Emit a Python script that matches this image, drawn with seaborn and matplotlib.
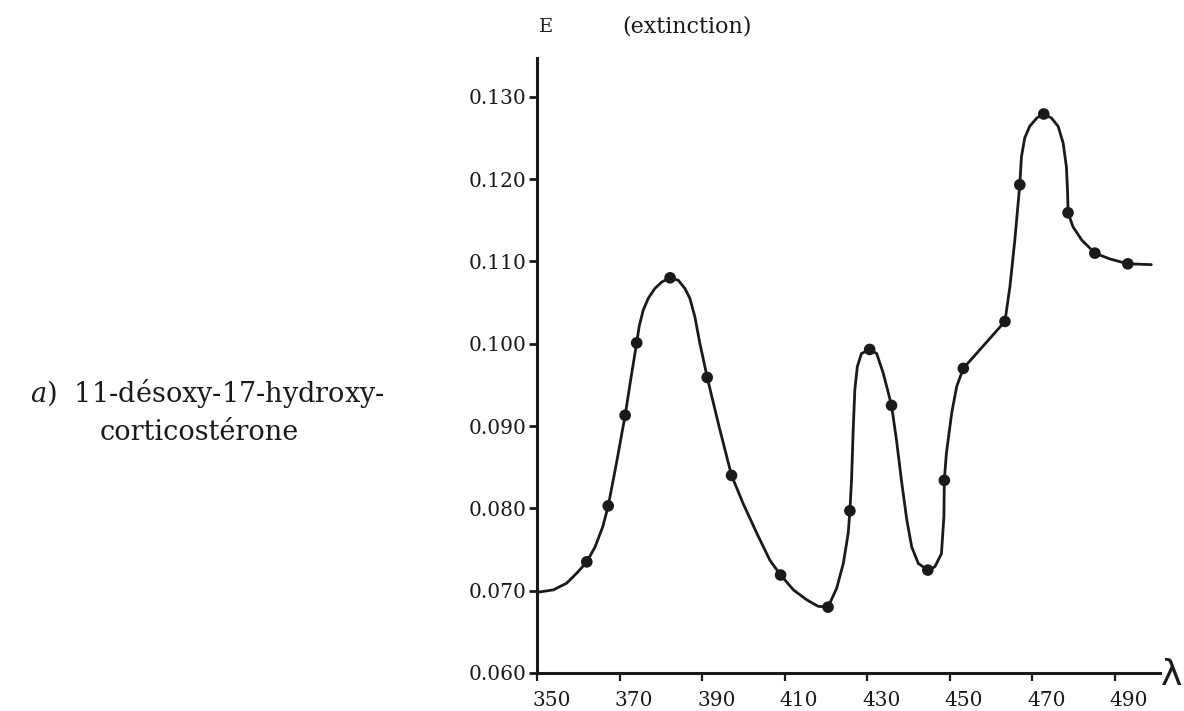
import matplotlib
matplotlib.use("Agg")
import matplotlib.pyplot as plt
import matplotlib.transforms as mtransforms
import seaborn as sns
import pandas as pd

# measured points (wavelength nm, extinction)
dot_wavelength = [362.0, 367.2, 371.3, 374.1, 382.2, 391.2, 397.1, 409.0, 420.5, 425.8,
                  430.6, 435.9, 444.7, 448.7, 453.3, 463.4, 467.0, 472.8, 478.7, 485.2, 493.2]
dot_extinction = [0.0735, 0.0803, 0.0913, 0.1001, 0.1080, 0.0959, 0.0840, 0.0719, 0.0680, 0.0797,
                  0.0993, 0.0925, 0.0725, 0.0834, 0.0970, 0.1027, 0.1193, 0.1279, 0.1159, 0.1110, 0.1097]

# hand-drawn curve
curve_wavelength = [350.0, 353.9, 357.1, 359.9, 362.0, 364.0, 365.9, 367.2, 369.2, 371.3,
                    372.7, 374.1, 374.7, 375.7, 376.9, 378.5, 380.2, 382.2, 384.2, 385.8,
                    387.0, 388.2, 389.4, 391.2, 394.1, 397.1, 399.9, 403.2, 406.4, 409.0,
                    412.1, 415.3, 418.1, 420.5, 422.6, 424.2, 425.4, 425.8, 426.2, 426.6,
                    427.0, 427.6, 428.6, 430.6, 432.3, 433.9, 435.9, 437.1, 438.3, 439.6,
                    440.8, 442.4, 444.7, 446.4, 448.0, 448.6, 448.7, 449.2, 450.5, 451.7,
                    453.3, 463.4, 464.6, 465.8, 467.0, 467.4, 468.2, 469.4, 471.1, 472.8,
                    474.7, 476.3, 477.5, 478.3, 478.6, 478.7, 479.9, 482.0, 485.2, 488.8,
                    493.2, 498.9]
curve_extinction = [0.0698, 0.0701, 0.0709, 0.0723, 0.0735, 0.0753, 0.0778, 0.0803, 0.0855, 0.0913,
                    0.0958, 0.1001, 0.1021, 0.1041, 0.1055, 0.1067, 0.1075, 0.1080, 0.1077, 0.1067,
                    0.1055, 0.1033, 0.1001, 0.0959, 0.0899, 0.0840, 0.0806, 0.0770, 0.0737, 0.0719,
                    0.0701, 0.0689, 0.0681, 0.0680, 0.0703, 0.0733, 0.0770, 0.0797, 0.0834, 0.0895,
                    0.0944, 0.0972, 0.0988, 0.0993, 0.0988, 0.0964, 0.0925, 0.0883, 0.0834, 0.0786,
                    0.0753, 0.0733, 0.0725, 0.0729, 0.0745, 0.0790, 0.0834, 0.0867, 0.0916, 0.0948,
                    0.0970, 0.1027, 0.1069, 0.1126, 0.1193, 0.1227, 0.1250, 0.1264, 0.1274, 0.1279,
                    0.1274, 0.1264, 0.1244, 0.1215, 0.1183, 0.1159, 0.1142, 0.1126, 0.1110, 0.1103,
                    0.1097, 0.1096]

x_ticks = [350, 370, 390, 410, 430, 450, 470, 490]
y_ticks = [0.060, 0.070, 0.080, 0.090, 0.100, 0.110, 0.120, 0.130]
y_tick_labels = ["0.060", "0.070", "0.080", "0.090", "0.100", "0.110", "0.120", "0.130"]

sns.set_style("ticks")
plt.rcParams['font.family'] = ['DejaVu Serif', 'DejaVu Sans']
plt.rcParams['mathtext.fontset'] = 'dejavuserif'

INK = "#1a1a1a"
fig = plt.figure(figsize=(11.84, 7.11), dpi=100)
ax = fig.add_axes([537.3 / 1184, 38 / 711, (1160 - 537.3) / 1184, (673 - 58) / 711])

curve_df = pd.DataFrame({"wl": curve_wavelength, "E": curve_extinction})
dots_df = pd.DataFrame({"wl": dot_wavelength, "E": dot_extinction})

sns.lineplot(data=curve_df, x="wl", y="E", sort=False, estimator=None, color=INK,
             linewidth=2.0, ax=ax, solid_joinstyle="round", solid_capstyle="round")
sns.scatterplot(data=dots_df, x="wl", y="E", color=INK, s=70, edgecolor="none",
                ax=ax, zorder=5)

ax.set_xlim(350, 501)
ax.set_ylim(0.060, 0.1347)
ax.set_xticks(x_ticks)
ax.set_xticklabels([str(v) for v in x_ticks])
ax.set_yticks(y_ticks)
ax.set_yticklabels(y_tick_labels)
ax.set_xlabel("")
ax.set_ylabel("")

for side in ["top", "right"]:
    ax.spines[side].set_visible(False)
for side in ["left", "bottom"]:
    ax.spines[side].set_linewidth(2.2)
    ax.spines[side].set_color(INK)

ax.tick_params(axis="y", direction="out", length=6, width=2.0, pad=2,
               labelsize=14.5, colors=INK)
ax.tick_params(axis="x", direction="out", length=6, width=1.6, pad=7,
               labelsize=14.5, colors=INK)

offset = mtransforms.ScaledTranslation(0.14, 0, fig.dpi_scale_trans)
for lab in ax.get_xticklabels():
    lab.set_transform(lab.get_transform() + offset)

# titles / annotations
fig.text(546 / 1184, 1 - 27 / 711, "E", ha="center", va="center", fontsize=14, color=INK)
fig.text(687 / 1184, 1 - 27 / 711, "(extinction)", ha="center", va="center", fontsize=16,
         color=INK)
fig.text(1172 / 1184, 1 - 675 / 711, "λ", ha="center", va="center", fontsize=26,
         family=["DejaVu Sans"], color=INK)

fig.text(385 / 1184, 1 - 402 / 711, "$\\mathit{a}$)  11-désoxy-17-hydroxy-", ha="right",
         va="baseline", fontsize=19.5, color=INK)
fig.text(100 / 1184, 1 - 440 / 711, "corticostérone", ha="left", va="baseline",
         fontsize=19.5, color=INK)

fig.savefig("out.png", dpi=100, facecolor="white")
